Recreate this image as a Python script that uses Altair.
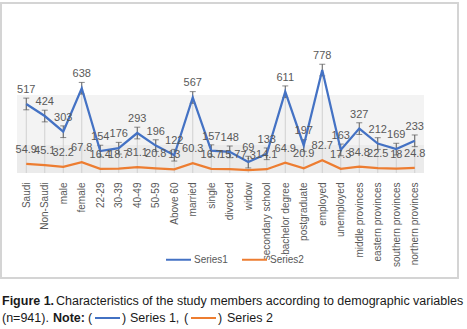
import altair as alt
import pandas as pd

categories = ["Saudi", "Non-Saudi", "male", "female", "22-29", "30-39", "40-49", "50-59",
              "Above 60", "married", "single", "divorced", "widow", "secondary school",
              "bachelor degree", "postgraduate", "employed", "unemployed",
              "middle provinces", "eastern provinces", "southern provinces", "northern provinces"]
series1 = [517, 424, 303, 638, 154, 176, 293, 196, 122, 567, 157, 148, 69, 133, 611, 197, 778, 163, 327, 212, 169, 233]
series2 = [54.9, 45.1, 32.2, 67.8, 16.4, 18.7, 31.1, 20.8, 13, 60.3, 16.7, 15.7, 7.3, 14.1, 64.9, 20.9, 82.7, 17.3, 34.8, 22.5, 18, 24.8]
error1 = 45

df = pd.DataFrame({"cat": categories, "s1": series1, "s2": series2})
df["lo"] = df["s1"] - error1
df["hi"] = df["s1"] + error1

long = pd.concat([
    pd.DataFrame({"cat": categories, "value": series1, "series": "Series1"}),
    pd.DataFrame({"cat": categories, "value": series2, "series": "Series2"}),
])
long["label"] = [f"{v:g}" for v in long["value"]]

FONT = "Liberation Sans"
CAP = "Liberation Sans"
GRAY = "#595959"

xenc = alt.X("cat:N", sort=categories,
             scale=alt.Scale(type="point", padding=0.5),
             axis=alt.Axis(title=None, labelAngle=270, labelAlign="right", labelBaseline="middle",
                           labelPadding=9, ticks=False, domain=False, labelFontSize=10,
                           labelColor=GRAY, labelFont=FONT, labelLimit=200, grid=False))
yscale = alt.Scale(domain=[-15, 586], nice=False, zero=False)

base = alt.Chart(df)

# lower, slightly darker band of the plot background
band = base.mark_rect(color="#ebebeb").encode(
    x=alt.value(0), x2=alt.value(407), y=alt.value(50), y2=alt.value(78))

drop = base.mark_rule(color="#d0d0d0", strokeWidth=1).encode(
    x=xenc, y=alt.Y("s1:Q", scale=yscale, axis=None), y2=alt.value(78))

err = base.mark_rule(color=GRAY, strokeWidth=1).encode(
    x=xenc, y=alt.Y("lo:Q", scale=yscale, axis=None), y2="hi:Q")
cap_lo = base.mark_tick(color=GRAY, size=6, thickness=1).encode(
    x=xenc, y=alt.Y("lo:Q", scale=yscale, axis=None))
cap_hi = base.mark_tick(color=GRAY, size=6, thickness=1).encode(
    x=xenc, y=alt.Y("hi:Q", scale=yscale, axis=None))

lines = alt.Chart(long).mark_line(strokeWidth=2.25).encode(
    x=xenc,
    y=alt.Y("value:Q", scale=yscale, axis=None),
    color=alt.Color("series:N",
                    scale=alt.Scale(domain=["Series1", "Series2"], range=["#4472C4", "#ED7D31"]),
                    legend=alt.Legend(orient="none", legendX=148, legendY=151, direction="horizontal",
                                      title=None, symbolType="stroke", symbolSize=625,
                                      symbolStrokeWidth=2, labelFontSize=10, labelColor=GRAY,
                                      labelFont=FONT, columnPadding=10, labelOffset=2)),
    detail="series:N")

labels = alt.Chart(long).mark_text(fontSize=11, font=FONT, color=GRAY, baseline="bottom", dy=-9).encode(
    x=xenc, y=alt.Y("value:Q", scale=yscale, axis=None), text="label:N")

frame = base.mark_rect(fill=None, stroke="#d4d4d4", strokeWidth=1.5).encode(
    x=alt.value(-16), x2=alt.value(441), y=alt.value(-92), y2=alt.value(183))

def txt(s, x, y, bold=False, color="#1a1a1a"):
    return alt.Chart(pd.DataFrame({"t": [s]})).mark_text(
        align="left", baseline="middle", fontSize=12.5, font=CAP,
        fontWeight="bold" if bold else "normal", color=color).encode(
        x=alt.value(x), y=alt.value(y), text="t:N")

def seg(x1, x2, y, color):
    return base.mark_rule(color=color, strokeWidth=1.2).encode(
        x=alt.value(x1), x2=alt.value(x2), y=alt.value(y))

ox, oy = 17, 95
cap_layers = [
    txt("Figure 1.", 2 - ox, 301 - oy, bold=True),
    txt("Characteristics of the study members according to demographic variables", 56 - ox, 301 - oy),
    txt("(n=941).", 2 - ox, 318 - oy),
    txt("Note:", 53 - ox, 318 - oy, bold=True),
    txt("(", 88 - ox, 318 - oy),
    seg(95 - ox, 120 - ox, 318 - oy, "#4472C4"),
    txt(")", 122 - ox, 318 - oy),
    txt("Series 1,", 130 - ox, 318 - oy),
    txt("(", 184 - ox, 318 - oy),
    seg(191 - ox, 216 - ox, 318 - oy, "#ED7D31"),
    txt(")", 218 - ox, 318 - oy),
    txt("Series 2", 227 - ox, 318 - oy),
]

chart = alt.layer(band, drop, err, cap_lo, cap_hi, lines, labels, frame, *cap_layers).properties(
    width=407, height=78,
    autosize=alt.AutoSizeParams(type="none"),
    padding={"left": 17, "top": 95, "right": 43, "bottom": 156},
    background="white",
).configure_view(fill="#f3f3f3", stroke=None)

chart.save("out.html", embed_options={"renderer": "svg", "actions": False})
